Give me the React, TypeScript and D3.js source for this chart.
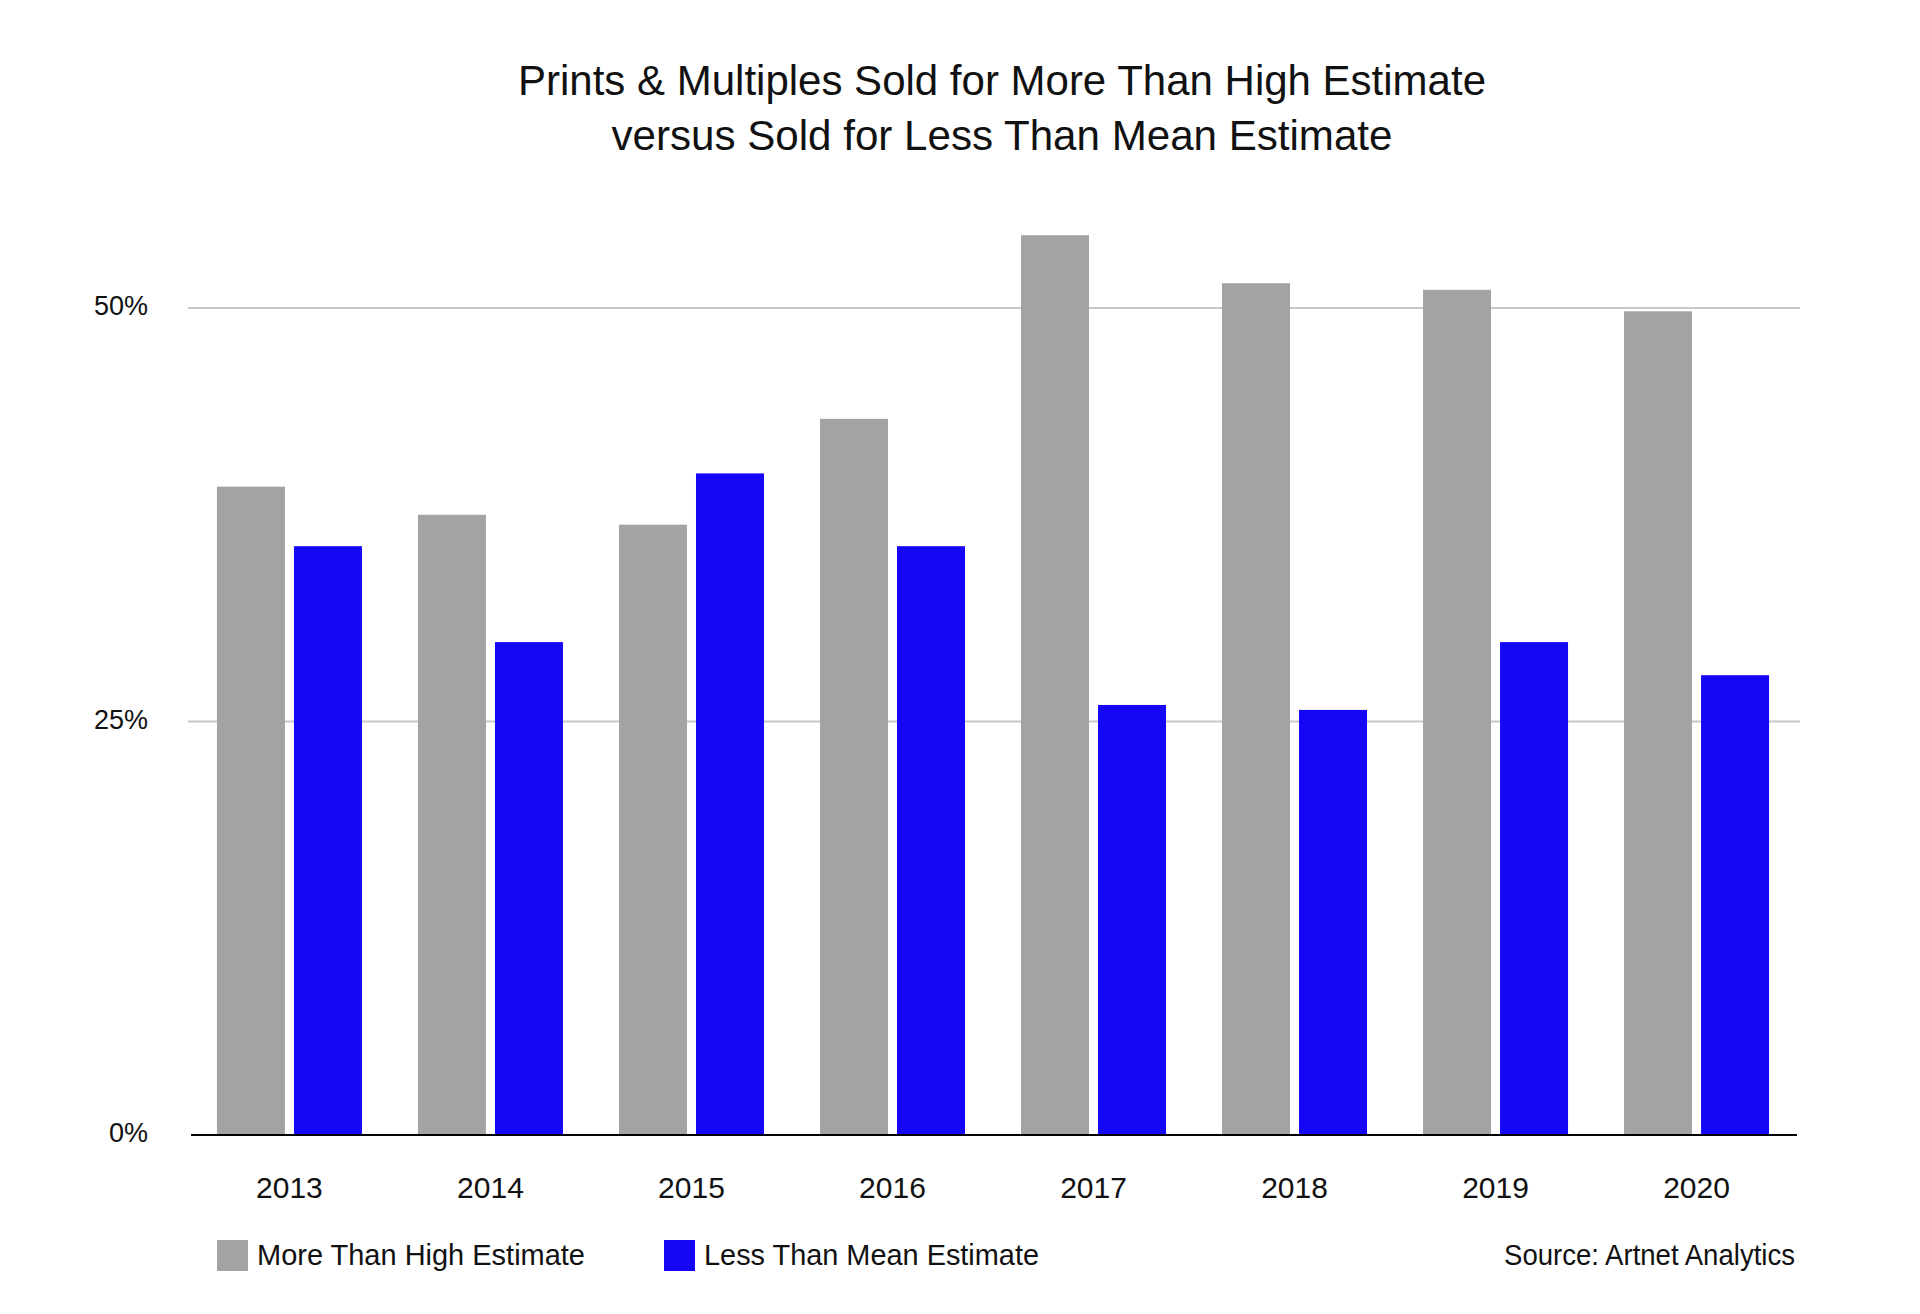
import React, { useEffect, useRef } from "react";
import * as d3 from "d3";

const years = ["2013", "2014", "2015", "2016", "2017", "2018", "2019", "2020"];
const moreThanHigh = [39.2, 37.5, 36.9, 43.3, 54.4, 51.5, 51.1, 49.8];
const lessThanMean = [35.6, 29.8, 40.0, 35.6, 26.0, 25.7, 29.8, 27.8];
const yTicks = [0, 25, 50];
const seriesKeys = ["high", "low"];
const seriesLabels = ["More Than High Estimate", "Less Than Mean Estimate"];
const titleLines = [
  "Prints & Multiples Sold for More Than High Estimate",
  "versus Sold for Less Than Mean Estimate",
];
const sourceText = "Source: Artnet Analytics";

const W = 1920;
const H = 1314;
const GRAY = "#a3a3a5";
const BLUE = "#1507f6";
const FONT = "'Liberation Sans', Arial, sans-serif";

export default function App() {
  const ref = useRef<SVGSVGElement | null>(null);

  useEffect(() => {
    const svg = d3.select(ref.current);
    svg.selectAll("*").remove();

    const x0 = d3
      .scaleBand<string>()
      .domain(years)
      .range([189, 1797])
      .paddingInner(0.2786)
      .paddingOuter(0.139);
    const x1 = d3
      .scaleBand<string>()
      .domain(seriesKeys)
      .range([0, x0.bandwidth()])
      .paddingInner(0.117);
    const y = d3.scaleLinear().domain([0, 50]).range([1135, 308]);
    const color = d3.scaleOrdinal<string, string>().domain(seriesKeys).range([GRAY, BLUE]);

    // Title
    const tw = [968, 781];
    const tb = [95, 150];
    titleLines.forEach((t, i) => {
      svg
        .append("text")
        .attr("x", 1002)
        .attr("y", tb[i])
        .attr("text-anchor", "middle")
        .attr("font-family", FONT)
        .attr("font-size", 42)
        .attr("fill", "#111")
        .attr("textLength", tw[i])
        .attr("lengthAdjust", "spacingAndGlyphs")
        .text(t);
    });

    // gridlines
    svg
      .append("g")
      .selectAll("line")
      .data(yTicks.filter((d) => d > 0))
      .join("line")
      .attr("x1", 188)
      .attr("x2", 1800)
      .attr("y1", (d) => y(d))
      .attr("y2", (d) => y(d))
      .attr("stroke", "#c8c8c8")
      .attr("stroke-width", 2);

    // y labels
    svg
      .append("g")
      .selectAll("text")
      .data(yTicks)
      .join("text")
      .attr("x", 148)
      .attr("y", (d) => y(d) + 7)
      .attr("text-anchor", "end")
      .attr("font-family", FONT)
      .attr("font-size", 27)
      .attr("fill", "#111")
      .text((d) => `${d}%`);

    // bars
    const data = years.map((yr, i) => ({ yr, high: moreThanHigh[i], low: lessThanMean[i] }));
    const groups = svg
      .append("g")
      .selectAll("g")
      .data(data)
      .join("g")
      .attr("transform", (d) => `translate(${x0(d.yr)},0)`);
    groups
      .selectAll("rect")
      .data((d) => seriesKeys.map((k) => ({ k, v: (d as any)[k] as number })))
      .join("rect")
      .attr("x", (d) => x1(d.k)!)
      .attr("width", x1.bandwidth())
      .attr("y", (d) => y(d.v))
      .attr("height", (d) => y(0) - y(d.v))
      .attr("fill", (d) => color(d.k));

    // axis line
    svg
      .append("line")
      .attr("x1", 191)
      .attr("x2", 1797)
      .attr("y1", y(0))
      .attr("y2", y(0))
      .attr("stroke", "#000")
      .attr("stroke-width", 2);

    // x labels
    svg
      .append("g")
      .selectAll("text")
      .data(years)
      .join("text")
      .attr("x", (d) => x0(d)! + x0.bandwidth() / 2)
      .attr("y", 1198)
      .attr("text-anchor", "middle")
      .attr("font-family", FONT)
      .attr("font-size", 30)
      .attr("fill", "#111")
      .text((d) => d);

    // legend
    const legX = [217, 664];
    const legW = [328, 335];
    seriesKeys.forEach((k, i) => {
      svg
        .append("rect")
        .attr("x", legX[i])
        .attr("y", 1240)
        .attr("width", 31)
        .attr("height", 31)
        .attr("fill", color(k));
      svg
        .append("text")
        .attr("x", legX[i] + 40)
        .attr("y", 1265)
        .attr("font-family", FONT)
        .attr("font-size", 30)
        .attr("fill", "#111")
        .attr("textLength", legW[i])
        .attr("lengthAdjust", "spacingAndGlyphs")
        .text(seriesLabels[i]);
    });

    svg
      .append("text")
      .attr("x", 1795)
      .attr("y", 1265)
      .attr("text-anchor", "end")
      .attr("font-family", FONT)
      .attr("font-size", 29)
      .attr("fill", "#111")
      .attr("textLength", 291)
      .attr("lengthAdjust", "spacingAndGlyphs")
      .text(sourceText);
  }, []);

  return (
    <svg
      ref={ref}
      width={W}
      height={H}
      style={{ position: "absolute", left: 0, top: 0, background: "#fff", display: "block" }}
    />
  );
}
